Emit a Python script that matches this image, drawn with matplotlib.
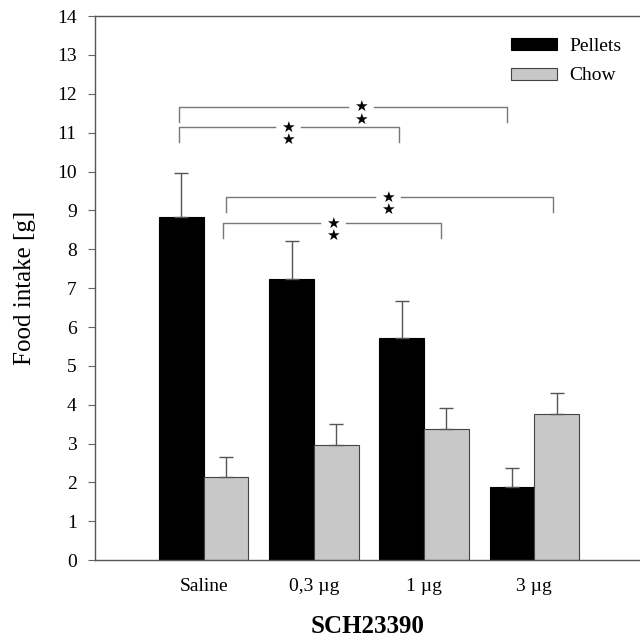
import numpy as np
import matplotlib.pyplot as plt

plt.rcParams['font.family'] = ['Liberation Serif', 'DejaVu Serif']

doses = ['Saline', '0,3 µg', '1 µg', '3 µg']
pellets = [8.83, 7.23, 5.71, 1.88]
pellets_err = [1.13, 0.97, 0.95, 0.50]
chow = [2.13, 2.96, 3.37, 3.76]
chow_err = [0.53, 0.54, 0.54, 0.54]

# significance brackets: x start, x end, y, star x
br_x0 = [-0.227, -0.227, 0.20, 0.173]
br_x1 = [2.755, 1.773, 3.173, 2.155]
br_y = [11.66, 11.14, 9.34, 8.67]
br_star = [1.427, 0.764, 1.673, 1.173]

x = np.arange(len(doses))
w = 0.405

fig = plt.figure(figsize=(6.4, 6.41), dpi=100)
ax = fig.add_axes([0.148, 0.126, 0.852, 0.849])

ax.bar(x - w / 2, pellets, w, color='black', edgecolor='black', linewidth=0.8, label='Pellets')
ax.bar(x + w / 2, chow, w, color='#c8c8c8', edgecolor='#444444', linewidth=0.8, label='Chow')
ax.errorbar(x - w / 2, pellets, yerr=[np.zeros(4), pellets_err], fmt='none',
            ecolor='#555555', elinewidth=1, capsize=5, capthick=1)
ax.errorbar(x + w / 2, chow, yerr=[np.zeros(4), chow_err], fmt='none',
            ecolor='#555555', elinewidth=1, capsize=5, capthick=1)

gap = 0.12
drop = 0.38
for x0, x1, y, xs in zip(br_x0, br_x1, br_y, br_star):
    ax.plot([x0, x0, xs - gap], [y - drop, y, y], color='#777777', lw=1)
    ax.plot([xs + gap, x1, x1], [y, y, y - drop], color='#777777', lw=1)
    ax.text(xs, y - 0.16, '★\n★', ha='center', va='center', fontsize=11,
            linespacing=0.8, fontfamily='DejaVu Sans')

ax.set_xlim(-0.99, 3.96)
ax.set_ylim(0, 14)
ax.set_yticks(range(0, 15))
ax.set_xticks(x)
ax.set_xticklabels(doses, fontsize=14)
ax.tick_params(axis='y', labelsize=14, direction='out', length=5, pad=8, color='#666666')
ax.tick_params(axis='x', length=0, pad=13)
ax.set_ylabel('Food intake [g]', fontsize=18, labelpad=15)
ax.set_xlabel('SCH23390', fontsize=18, fontweight='bold', labelpad=14)

ax.spines['right'].set_visible(False)
for s in ['left', 'bottom', 'top']:
    ax.spines[s].set_color('#555555')
    ax.spines[s].set_linewidth(1)

ax.legend(loc='upper left', bbox_to_anchor=(0.763, 0.96), frameon=False, fontsize=14,
          handlelength=2.4, handleheight=0.57, handletextpad=0.6, labelspacing=0.65,
          borderpad=0, borderaxespad=0)

plt.savefig('out.png')
